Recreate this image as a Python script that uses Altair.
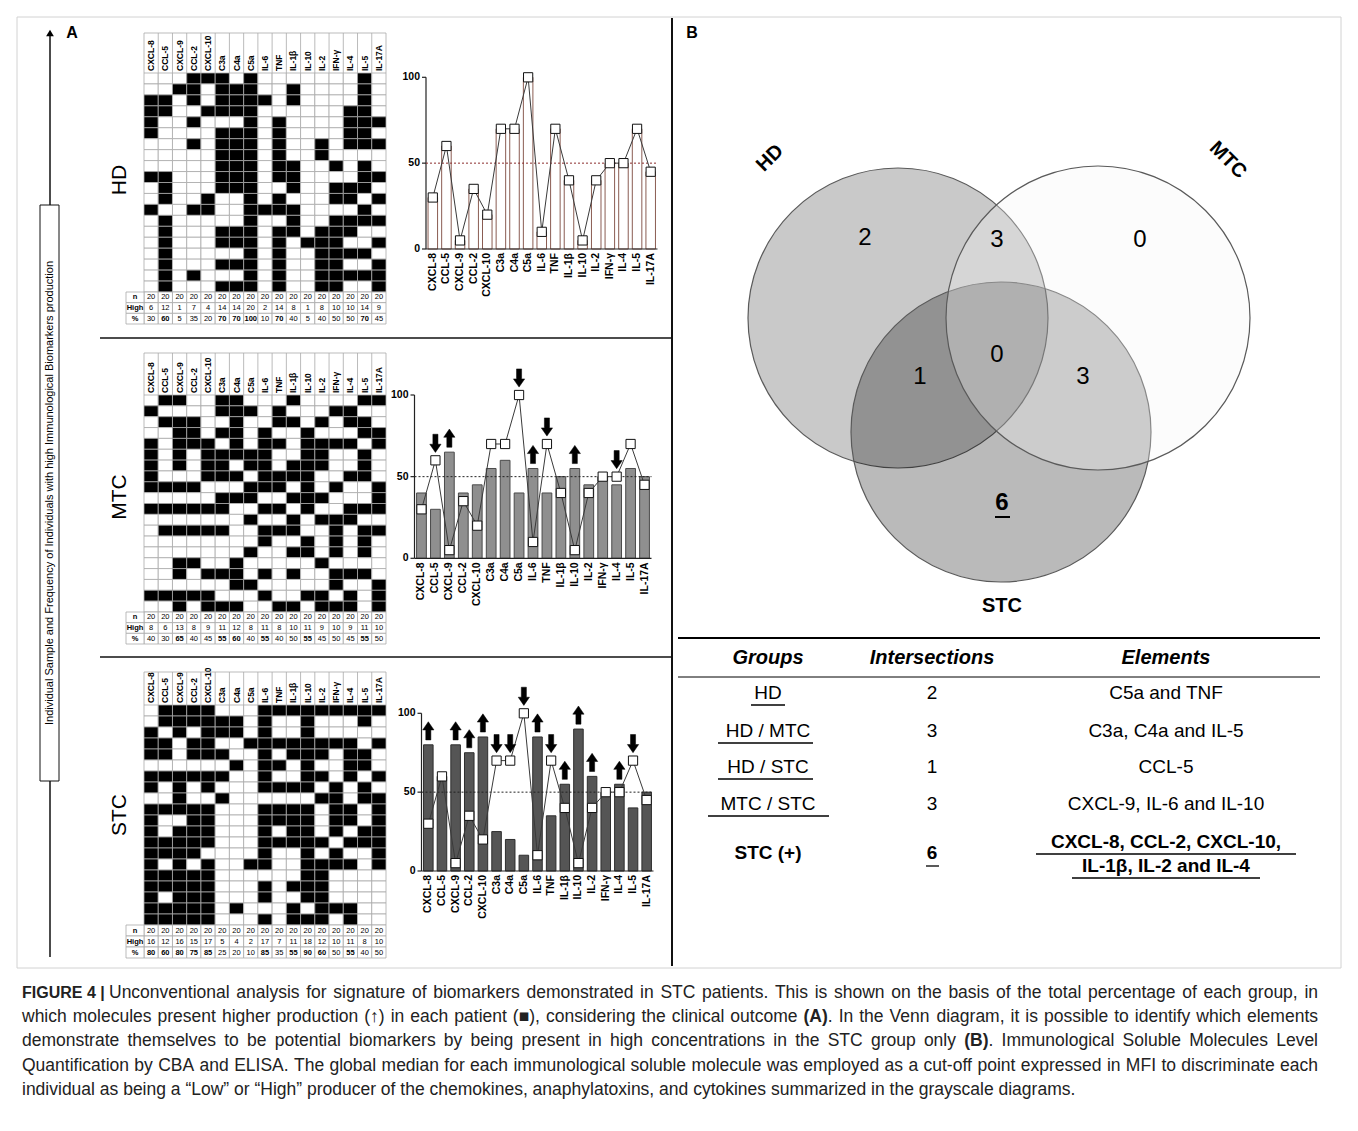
import altair as alt
import pandas as pd

OFF = 8
FONT = "Liberation Sans"


def px(v):
    return v - OFF


# ---------------- data ----------------
COLS = ["CXCL-8", "CCL-5", "CXCL-9", "CCL-2", "CXCL-10", "C3a", "C4a", "C5a", "IL-6",
        "TNF", "IL-1β", "IL-10", "IL-2", "IFN-γ", "IL-4", "IL-5", "IL-17A"]

HD_GRID = ["00011101000000010", "00110111001000010", "11010111101000010", "11001111000000110",
           "10010001010000111", "10000111010000110", "00010111010010111", "00000111010010000",
           "00000111011001010", "11000111011000011", "01000111001001110", "01001001010001101",
           "10011001111000010", "01000001001001111", "01000111011011100", "01000111010111001",
           "01000001010011110", "01000111010011001", "01010001010011111", "01000111010011001"]
MTC_GRID = ["01100110001000011", "10000111010001100", "01110010011010110", "00110110100100011",
            "10111010110111101", "10101111100110010", "10101101101110010", "10001110111100110",
            "11110001110101001", "00000111001110001", "11111100110100111", "00000001001011100",
            "01111100111001011", "00000000100101010", "00000001001101010", "00110010000010000",
            "00101110101001110", "00000011000001001", "11111000100110101", "00101110011011101"]
STC_GRID = ["01111000111111111", "01111110100100010", "10101110100100000", "11011001111111101",
            "11011100101110110", "00000010110100110", "11111100100110101", "10101000111101010",
            "00100100000011011", "11111000111101101", "10011000111101101", "10111000101101011",
            "11111000111110111", "11110000100101001", "10101001100111101", "11111000000110000",
            "11111000101110000", "10111000100110000", "11111010001011100", "11111000101110100"]

HD_HIGH = [6, 12, 1, 7, 4, 14, 14, 20, 2, 14, 8, 1, 8, 10, 10, 14, 9]
MTC_HIGH = [8, 6, 13, 8, 9, 11, 12, 8, 11, 8, 10, 11, 9, 10, 9, 11, 10]
STC_HIGH = [16, 12, 16, 15, 17, 5, 4, 2, 17, 7, 11, 18, 12, 10, 11, 8, 10]

HD_PCT = [30, 60, 5, 35, 20, 70, 70, 100, 10, 70, 40, 5, 40, 50, 50, 70, 45]
MTC_PCT = [40, 30, 65, 40, 45, 55, 60, 40, 55, 40, 50, 55, 45, 50, 45, 55, 50]
STC_PCT = [80, 60, 80, 75, 85, 25, 20, 10, 85, 35, 55, 90, 60, 50, 55, 40, 50]

MTC_UP = ["CXCL-9", "IL-6", "IL-10"]
MTC_DOWN = ["CCL-5", "C5a", "TNF", "IL-4"]
STC_UP = ["CXCL-8", "CXCL-9", "CCL-2", "CXCL-10", "IL-6", "IL-1β", "IL-10", "IL-2", "IL-4"]
STC_DOWN = ["C3a", "C4a", "C5a", "TNF", "IL-5"]

VENN_SETS = ["HD", "STC", "MTC"]
VENN_CX = [0.0, 1.03, 2.0]
VENN_CY = [0.0, -1.14, 0.0]
VENN_R = [1.5, 1.5, 1.52]
VENN_COUNTS = ["2", "3", "0", "0", "1", "3"]
VENN_CNT_X = [-0.33, 0.99, 2.42, 0.99, 0.22, 1.85]
VENN_CNT_Y = [0.80, 0.78, 0.78, -0.37, -0.59, -0.59]
VENN_STC_ONLY = "6"

TAB_GROUPS = ["HD", "HD / MTC", "HD / STC", "MTC / STC", "STC (+)"]
TAB_INTER = ["2", "3", "1", "3", "6"]
TAB_ELEMENTS = ["C5a and TNF", "C3a, C4a and IL-5", "CCL-5", "CXCL-9, IL-6 and IL-10",
                "CXCL-8, CCL-2, CXCL-10,", "IL-1β, IL-2 and IL-4"]

CAPTION_HEAD = "FIGURE 4 |"
CAPTION = [
    "Unconventional analysis for signature of biomarkers demonstrated in STC patients. This is shown on the basis of the total percentage of each group, in",
    "which molecules present higher production (↑) in each patient (■), considering the clinical outcome **(A)**. In the Venn diagram, it is possible to identify which elements",
    "demonstrate themselves to be potential biomarkers by being present in high concentrations in the STC group only **(B)**. Immunological Soluble Molecules Level",
    "Quantification by CBA and ELISA. The global median for each immunological soluble molecule was employed as a cut-off point expressed in MFI to discriminate each",
    "individual as being a “Low” or “High” producer of the chemokines, anaphylatoxins, and cytokines summarized in the grayscale diagrams.",
]

ONE = pd.DataFrame({"k": [0]})
UP_PATH = "M-0.28,1L0.28,1L0.28,-0.1L0.62,-0.1L0,-1L-0.62,-0.1L-0.28,-0.1Z"
DOWN_PATH = "M-0.28,-1L0.28,-1L0.28,0.1L0.62,0.1L0,1L-0.62,0.1L-0.28,0.1Z"


def text_at(s, x, y, **kw):
    kw.setdefault("font", FONT)
    kw.setdefault("baseline", "middle")
    return alt.Chart(pd.DataFrame({"t": [s]})).mark_text(**kw).encode(
        x=alt.value(px(x)), y=alt.value(px(y)), text="t:N")


def line_at(x1, y1, x2, y2, **kw):
    return alt.Chart(ONE).mark_rule(**kw).encode(
        x=alt.value(px(x1)), y=alt.value(px(y1)), x2=alt.value(px(x2)), y2=alt.value(px(y2)))


def box_at(x1, y1, x2, y2, **kw):
    return alt.Chart(ONE).mark_rect(**kw).encode(
        x=alt.value(px(x1)), y=alt.value(px(y1)), x2=alt.value(px(x2)), y2=alt.value(px(y2)))


GRIDC = "#a9a9a9"


def grid(rows, high, pct, gy0, gy1, ty1, hy0, gx0=144, gx1=386, lx0=126):
    out = []
    recs = []
    for i, r in enumerate(rows):
        for j, c in enumerate(COLS):
            recs.append({"col": c, "row": i + 1, "state": "High" if r[j] == "1" else "Low"})
    cells = pd.DataFrame(recs)
    xs = alt.Scale(type="band", domain=COLS, range=[px(gx0), px(gx1)], paddingInner=0, paddingOuter=0)
    ys = alt.Scale(type="band", domain=list(range(1, 21)), range=[px(gy0), px(gy1)],
                   paddingInner=0, paddingOuter=0)
    X = alt.X("col:N", scale=xs, axis=None, sort=COLS)
    out.append(alt.Chart(cells).mark_rect(stroke=GRIDC, strokeWidth=0.8).encode(
        x=X, y=alt.Y("row:O", scale=ys, axis=None),
        fill=alt.Fill("state:N", scale=alt.Scale(domain=["Low", "High"], range=["white", "black"]),
                      legend=None)))
    trows = ["n", "High", "%"]
    trecs = []
    for j, c in enumerate(COLS):
        trecs.append({"col": c, "r": "n", "t": "20", "b": False})
        trecs.append({"col": c, "r": "High", "t": str(high[j]), "b": False})
        trecs.append({"col": c, "r": "%", "t": str(pct[j]), "b": pct[j] > 50})
    tab = pd.DataFrame(trecs)
    tys = alt.Scale(type="band", domain=trows, range=[px(gy1), px(ty1)], paddingInner=0, paddingOuter=0)
    TY = alt.Y("r:N", scale=tys, axis=None, sort=trows)
    out.append(alt.Chart(tab).mark_rect(fill="white", stroke=GRIDC, strokeWidth=0.8).encode(x=X, y=TY))
    for bold in (False, True):
        sub = tab[tab["b"] == bold]
        out.append(alt.Chart(sub).mark_text(font=FONT, fontSize=7.5,
                                            fontWeight="bold" if bold else "normal").encode(
            x=X, y=TY, text="t:N"))
    lab = pd.DataFrame({"r": trows})
    out.append(alt.Chart(lab).mark_rect(fill="white", stroke=GRIDC, strokeWidth=0.8).encode(
        x=alt.value(px(lx0)), x2=alt.value(px(gx0)), y=TY))
    out.append(alt.Chart(lab).mark_text(font=FONT, fontSize=7.5, fontWeight="bold").encode(
        x=alt.value(px((lx0 + gx0) / 2)), y=TY, text="r:N"))
    hdr = pd.DataFrame({"col": COLS})
    out.append(alt.Chart(hdr).mark_text(font=FONT, fontSize=8.5, fontWeight="bold", angle=270,
                                        align="left", baseline="middle").encode(
        x=X, y=alt.value(px(gy0) - 2), text="col:N"))
    sep = pd.DataFrame({"i": list(range(len(COLS) + 1))})
    out.append(alt.Chart(sep).mark_rule(color=GRIDC, strokeWidth=0.8).encode(
        x=alt.X("i:Q", scale=alt.Scale(domain=[0, len(COLS)], range=[px(gx0), px(gx1)],
                                       nice=False, zero=False), axis=None),
        y=alt.value(px(hy0)), y2=alt.value(px(gy0))))
    out.append(line_at(gx0, hy0, gx1, hy0, color=GRIDC, strokeWidth=0.8))
    return out


def bars(pct, fill, stroke, dash_color, up, down, bx0, bx1, by0, by100):
    out = []
    df = pd.DataFrame({"col": COLS, "v": pct, "hd": HD_PCT, "idx": list(range(len(COLS))),
                       "z": [0] * len(COLS)})
    xs = alt.Scale(type="band", domain=COLS, range=[px(bx0), px(bx1)], paddingInner=0.3, paddingOuter=0.15)
    ys = alt.Scale(domain=[0, 100], range=[px(by0), px(by100)], nice=False, zero=False)
    X = alt.X("col:N", scale=xs, axis=None, sort=COLS)
    out.append(alt.Chart(df).mark_bar(fill=fill, stroke=stroke, strokeWidth=1).encode(
        x=X, y=alt.Y("v:Q", scale=ys, axis=None, stack=None), y2="z:Q"))
    ax = pd.DataFrame({"a": [0], "b": [100]})
    out.append(alt.Chart(ax).mark_rule(color="#222", strokeWidth=1.2).encode(
        y=alt.Y("a:Q", scale=ys, axis=None), x=alt.value(px(bx0)), x2=alt.value(px(bx1))))
    out.append(alt.Chart(ax).mark_rule(color="#222", strokeWidth=1.2).encode(
        y=alt.Y("a:Q", scale=ys, axis=None), y2="b:Q", x=alt.value(px(bx0))))
    tk = pd.DataFrame({"t": [0, 50, 100]})
    out.append(alt.Chart(tk).mark_rule(color="#222", strokeWidth=1.2).encode(
        y=alt.Y("t:Q", scale=ys, axis=None), x=alt.value(px(bx0) - 4), x2=alt.value(px(bx0))))
    out.append(alt.Chart(tk).mark_text(font=FONT, fontSize=10.5, fontWeight="bold", align="right",
                                       baseline="middle").encode(
        y=alt.Y("t:Q", scale=ys, axis=None), x=alt.value(px(bx0) - 6), text="t:Q"))
    half = pd.DataFrame({"t": [50]})
    out.append(alt.Chart(half).mark_rule(color=dash_color, strokeWidth=1, strokeDash=[2, 2]).encode(
        y=alt.Y("t:Q", scale=ys, axis=None), x=alt.value(px(bx0)), x2=alt.value(px(bx1))))
    out.append(alt.Chart(df).mark_line(color="#3a3a3a", strokeWidth=1).encode(
        x=X, y=alt.Y("hd:Q", scale=ys, axis=None), order="idx:Q"))
    out.append(alt.Chart(df).mark_point(shape="square", filled=True, fill="white", stroke="#111",
                                        strokeWidth=1, size=85, opacity=1).encode(
        x=X, y=alt.Y("hd:Q", scale=ys, axis=None)))
    out.append(alt.Chart(df).mark_text(font=FONT, fontSize=10.5, fontWeight="bold", angle=270,
                                       align="right", baseline="middle").encode(
        x=X, y=alt.value(px(by0) + 4), text="col:N"))
    adf = df.copy()
    adf["top"] = adf[["v", "hd"]].max(axis=1)
    adf["sq"] = adf["hd"] > adf["v"]
    for names, path in ((up, UP_PATH), (down, DOWN_PATH)):
        for sq, off in ((True, -17), (False, -14)):
            sub = adf[adf["col"].isin(names) & (adf["sq"] == sq)]
            if len(sub):
                out.append(alt.Chart(sub).mark_point(shape=path, filled=True, fill="black",
                                                     stroke="black", strokeWidth=0.5, size=330,
                                                     opacity=1).encode(
                    x=X, y=alt.Y("top:Q", scale=ys, axis=None), yOffset=alt.value(off)))
    return out


# ---------- caption layout (Arial metrics = Liberation Sans) ----------
_W = {' ': 278, '!': 278, '"': 355, '%': 889, '&': 667, "'": 191, '(': 333, ')': 333, ',': 278,
      '-': 333, '.': 278, '/': 278, ':': 278, ';': 278, '?': 556, '|': 260, '“': 333, '”': 333,
      '↑': 500, '■': 604}
for _c, _v in zip("ABCDEFGHIJKLMNOPQRSTUVWXYZ",
                  [667, 667, 722, 722, 667, 611, 778, 722, 278, 500, 667, 556, 833, 722, 778, 667,
                   778, 722, 667, 611, 722, 667, 944, 667, 667, 611]):
    _W[_c] = _v
for _c, _v in zip("abcdefghijklmnopqrstuvwxyz",
                  [556, 556, 500, 556, 556, 278, 556, 556, 222, 222, 500, 222, 833, 556, 556, 556,
                   556, 333, 500, 278, 556, 500, 722, 500, 500, 500]):
    _W[_c] = _v
_WB = {'(': 333, ')': 333, 'A': 722, 'B': 722}


def text_width(s, bold, size):
    tab = _WB if bold else {}
    return sum(tab.get(c, _W.get(c, 556)) for c in s) * size / 1000.0


def caption_records(line, x0, x1, y, size, justify):
    parts = line.split("**")
    words = [[]]
    for k, p in enumerate(parts):
        bold = k % 2 == 1
        pieces = p.split(" ")
        for m, piece in enumerate(pieces):
            if m > 0:
                words.append([])
            if piece:
                words[-1].append((piece, bold))
    words = [w for w in words if w]
    widths = [sum(text_width(t, b, size) for t, b in w) for w in words]
    gap = text_width(" ", False, size)
    if justify and len(words) > 1:
        gap = (x1 - x0 - sum(widths)) / (len(words) - 1)
    recs = []
    x = x0
    for w, wd in zip(words, widths):
        xx = x
        for t, b in w:
            recs.append({"t": t, "x": px(xx), "y": px(y), "b": b})
            xx += text_width(t, b, size)
        x += wd + gap
    return recs


layers = []

# frame and dividers
layers.append(box_at(17, 17, 1341, 968, fillOpacity=0, stroke="#d2d2d2", strokeWidth=1))
layers.append(line_at(672, 18, 672, 966, color="#111", strokeWidth=2))
layers.append(line_at(100, 338, 672, 338, color="#111", strokeWidth=1.5))
layers.append(line_at(100, 657, 672, 657, color="#111", strokeWidth=1.5))

# left arrow and label
layers.append(line_at(50, 957, 50, 36, color="#111", strokeWidth=1.5))
layers.append(alt.Chart(ONE).mark_point(shape="triangle-up", filled=True, fill="black", size=60,
                                        opacity=1).encode(x=alt.value(px(50)), y=alt.value(px(33))))
layers.append(box_at(40, 205, 59, 781, fill="white", stroke="#111", strokeWidth=1))
layers.append(text_at("Individual Sample and Frequency of Individuals with high Immunological Biomarkers production",
                      49.5, 493, fontSize=11, angle=270, align="center"))
layers.append(text_at("A", 72, 33, fontSize=16, fontWeight="bold", align="center"))
layers.append(text_at("B", 692, 33, fontSize=16, fontWeight="bold", align="center"))
for name, yy in (("HD", 180), ("MTC", 497), ("STC", 815)):
    layers.append(text_at(name, 120, yy, fontSize=21, angle=270, align="center"))

# panel A grids
layers += grid(HD_GRID, HD_HIGH, HD_PCT, 73, 292, 324, 33)
layers += grid(MTC_GRID, MTC_HIGH, MTC_PCT, 395, 612, 644, 353)
layers += grid(STC_GRID, STC_HIGH, STC_PCT, 705, 925, 958, 672)

# panel A bar charts
layers += bars(HD_PCT, "white", "#8a5c52", "#8b2c2c", [], [], 426, 657.5, 249, 77.3)
layers += bars(MTC_PCT, "#8f8f8f", "#4a4a4a", "#222", MTC_UP, MTC_DOWN, 414.5, 651.5, 558.3, 395)
layers += bars(STC_PCT, "#555555", "#2e2e2e", "#222", STC_UP, STC_DOWN, 421.5, 653.5, 871, 713.3)

# panel B venn
vxs = alt.Scale(domain=[-1.6, 3.6], range=[px(738), px(1258)], nice=False, zero=False)
vys = alt.Scale(domain=[-3.2, 1.8], range=[px(638), px(138)], nice=False, zero=False)
venn_style = {"HD": ("black", 0.21), "STC": ("black", 0.27), "MTC": ("#f4f4f4", 0.3)}
for s, cx, cy, r in zip(VENN_SETS, VENN_CX, VENN_CY, VENN_R):
    col, op = venn_style[s]
    d = pd.DataFrame({"set": [s], "cx": [cx], "cy": [cy]})
    layers.append(alt.Chart(d).mark_point(shape="circle", filled=True, fill=col, fillOpacity=op,
                                          stroke="#5a5a5a", strokeWidth=1.2, strokeOpacity=1,
                                          opacity=1).encode(
        x=alt.X("cx:Q", scale=vxs, axis=None), y=alt.Y("cy:Q", scale=vys, axis=None),
        size=alt.value((2 * r * 100) ** 2)))
cnt = pd.DataFrame({"t": VENN_COUNTS, "x": VENN_CNT_X, "y": VENN_CNT_Y})
layers.append(alt.Chart(cnt).mark_text(font=FONT, fontSize=24, baseline="middle").encode(
    x=alt.X("x:Q", scale=vxs, axis=None), y=alt.Y("y:Q", scale=vys, axis=None), text="t:N"))
six = pd.DataFrame({"t": [VENN_STC_ONLY], "x": [1.04], "y": [-1.85]})
layers.append(alt.Chart(six).mark_text(font=FONT, fontSize=24, fontWeight="bold", baseline="middle").encode(
    x=alt.X("x:Q", scale=vxs, axis=None), y=alt.Y("y:Q", scale=vys, axis=None), text="t:N"))
layers.append(line_at(995, 517, 1010, 517, color="black", strokeWidth=2))
for lab, lx, ly, ang in (("HD", -1.28, 1.60, 315), ("MTC", 3.30, 1.58, 45), ("STC", 1.04, -2.88, 0)):
    d = pd.DataFrame({"t": [lab], "x": [lx], "y": [ly]})
    layers.append(alt.Chart(d).mark_text(font=FONT, fontSize=20, fontWeight="bold", angle=ang,
                                         baseline="middle").encode(
        x=alt.X("x:Q", scale=vxs, axis=None), y=alt.Y("y:Q", scale=vys, axis=None), text="t:N"))

# panel B table
layers.append(line_at(678, 638, 1320, 638, color="black", strokeWidth=2))
layers.append(line_at(678, 677, 1320, 677, color="black", strokeWidth=1))
for h, xx in (("Groups", 768), ("Intersections", 932), ("Elements", 1166)):
    layers.append(text_at(h, xx, 658, fontSize=20, fontWeight="bold", fontStyle="italic", align="center"))
row_y = [693, 731, 767, 804, 853]
for i, (g, n) in enumerate(zip(TAB_GROUPS, TAB_INTER)):
    last = i == len(TAB_GROUPS) - 1
    layers.append(text_at(g, 768, row_y[i], fontSize=19, align="center",
                          fontWeight="bold" if last else "normal"))
    layers.append(text_at(n, 932, row_y[i], fontSize=19, align="center",
                          fontWeight="bold" if last else "normal"))
for i, e in enumerate(TAB_ELEMENTS[:4]):
    layers.append(text_at(e, 1166, row_y[i], fontSize=19, align="center"))
layers.append(text_at(TAB_ELEMENTS[4], 1166, 842, fontSize=19, fontWeight="bold", align="center"))
layers.append(text_at(TAB_ELEMENTS[5], 1166, 866, fontSize=19, fontWeight="bold", align="center"))
for x1, x2, yy in ((751, 785, 705), (718, 813, 743), (718, 813, 779), (708, 829, 816),
                   (926, 939, 866), (1036, 1296, 854), (1072, 1260, 878)):
    layers.append(line_at(x1, yy, x2, yy, color="black", strokeWidth=1.3))

# caption
CAP_SIZE = 17.5
cap_y = [993, 1017, 1041, 1066, 1090]
layers.append(text_at(CAPTION_HEAD, 22, cap_y[0], fontSize=16, fontWeight="bold", align="left", color="#222"))
recs = []
for i, (line, yy) in enumerate(zip(CAPTION, cap_y)):
    x0 = 109 if i == 0 else 22
    recs += caption_records(line, x0, 1318, yy, CAP_SIZE, justify=i < len(CAPTION) - 1)
cap = pd.DataFrame(recs)
for bold in (False, True):
    sub = cap[cap["b"] == bold]
    layers.append(alt.Chart(sub).mark_text(font=FONT, fontSize=CAP_SIZE, align="left", baseline="middle",
                                           color="#222", fontWeight="bold" if bold else "normal").encode(
        x=alt.X("x:Q", scale=None), y=alt.Y("y:Q", scale=None), text="t:N"))

chart = alt.layer(*layers).resolve_scale(
    x="independent", y="independent", fill="independent", size="independent"
).properties(
    width=1342, height=1115, padding=0, autosize=alt.AutoSizeParams(type="none")
).configure_view(stroke=None)

chart.save("out.html", embed_options={"renderer": "svg", "actions": False})
